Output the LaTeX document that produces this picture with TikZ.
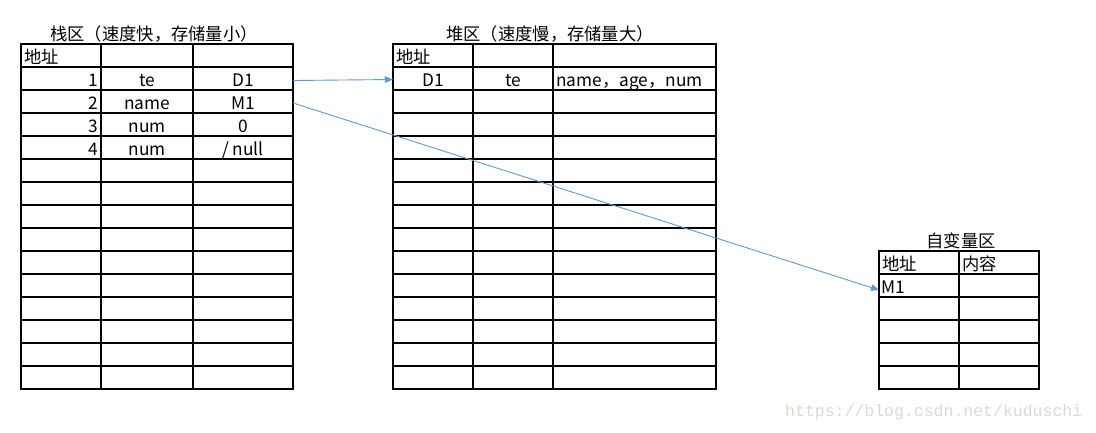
\documentclass[tikz,border=0pt]{standalone}
\usepackage{fontspec}
\setmainfont{Noto Sans CJK SC}
\newfontfamily\wmfont{Liberation Mono}
\usetikzlibrary{arrows.meta}
\definecolor{linkblue}{HTML}{5B9BD5}
\definecolor{wmgray}{HTML}{DADAD2}
\begin{document}
\begin{tikzpicture}[x=1pt,y=-1pt,
  cell/.style={draw=black, line width=1.1pt, anchor=north west, inner sep=0pt, outer sep=0pt, minimum height=23pt},
  txt/.style={font=\fontsize{17.3}{19}\selectfont, inner sep=0pt, anchor=base},
  txtl/.style={txt, anchor=base west},
  txtr/.style={txt, anchor=base east},
  link/.style={draw=linkblue, line width=0.9pt, -{Triangle[length=8pt,width=6.5pt]}},
  wm/.style={font=\wmfont\fontsize{16.5}{18}\selectfont, text=wmgray, inner sep=0pt, anchor=base west}]
\useasboundingbox (0,0) rectangle (1096,432);
% stack table
\foreach \r in {0,...,14} {
  \foreach \c/\xa/\w in {1/21/80, 2/101/92, 3/193/100} {
    \node[cell, minimum width=\w pt] (s-\r-\c) at (\xa, 44+23*\r) {};
  }
}
% heap table
\foreach \r in {0,...,14} {
  \foreach \c/\xa/\w in {1/393/80, 2/473/80, 3/553/163} {
    \node[cell, minimum width=\w pt] (h-\r-\c) at (\xa, 44+23*\r) {};
  }
}
% variable table
\foreach \r in {0,...,5} {
  \foreach \c/\xa/\w in {1/879/80, 2/959/80} {
    \node[cell, minimum width=\w pt] (r-\r-\c) at (\xa, 251+23*\r) {};
  }
}
% titles
\node[txt] (stitle) at (154,40.5) {栈区（速度快，存储量小）};
\node[txt] (htitle) at (550,40.5) {堆区（速度慢，存储量大）};
\node[txt] (rtitle) at (961,247.5) {自变量区};
% stack texts
\node[txtl] (st-0-1) at (24,63.5) {地址};
\node[txtr] (st-1-1) at (98,86.5) {1};
\node[txt]  (st-1-2) at (147,86.5) {te};
\node[txt]  (st-1-3) at (243,86.5) {D1};
\node[txtr] (st-2-1) at (98,109.5) {2};
\node[txt]  (st-2-2) at (147,109.5) {name};
\node[txt]  (st-2-3) at (243,109.5) {M1};
\node[txtr] (st-3-1) at (98,132.5) {3};
\node[txt]  (st-3-2) at (147,132.5) {num};
\node[txt]  (st-3-3) at (243,132.5) {0};
\node[txtr] (st-4-1) at (98,155.5) {4};
\node[txt]  (st-4-2) at (147,155.5) {num};
\node[txt]  (st-4-3) at (243,155.5) {/ null};
% heap texts
\node[txtl] (ht-0-1) at (396,63.5) {地址};
\node[txt]  (ht-1-1) at (433,86.5) {D1};
\node[txt]  (ht-1-2) at (513,86.5) {te};
\node[txtl] (ht-1-3) at (556,86.5) {name，age，num};
% variable texts
\node[txtl] (rt-0-1) at (882,270.5) {地址};
\node[txtl] (rt-0-2) at (962,270.5) {内容};
\node[txtl] (rt-1-1) at (881,293.5) {M1};
% arrows
\draw[link] ([yshift=-2pt]s-1-3.east) -- ([yshift=-1pt]h-1-1.west);
\draw[link] ([yshift=-1.5pt]s-2-3.east) -- ([yshift=-4.5pt]r-1-1.west);
% watermark
\node[wm] (wmark) at (785,416.5) {https://blog.csdn.net/kuduschi};
\end{tikzpicture}
\end{document}
